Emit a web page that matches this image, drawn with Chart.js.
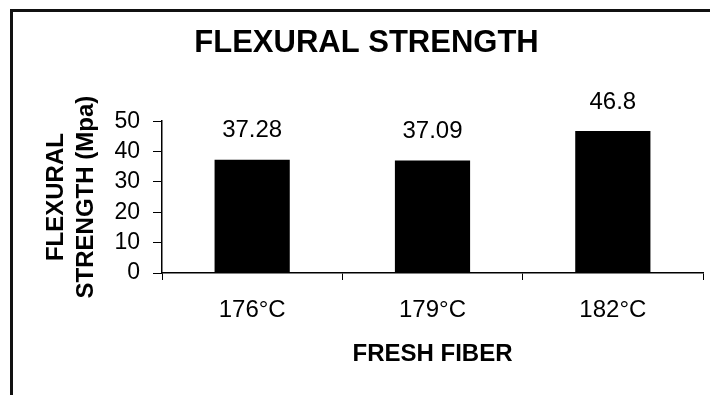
<!DOCTYPE html>
<html>
<head>
<meta charset="utf-8">
<script src="https://cdn.jsdelivr.net/npm/chart.js@4.4.1/dist/chart.umd.min.js"></script>
<style>
    body { margin: 0; background: #fff; overflow: hidden; }
    #frame {
        position: absolute; left: 10px; top: 9px;
        width: 720px; height: 400px;
        border-left: 3px solid #111; border-top: 3px solid #111;
    }
    #chart { position: absolute; left: 0; top: 0; }
</style>
</head>
<body>
<div id="frame"></div>
<canvas id="chart" width="710" height="395"></canvas>
<script>
// data
const categories = ['176°C', '179°C', '182°C'];
const strengthValues = [37.28, 37.09, 46.8];
const valueLabels = ['37.28', '37.09', '46.8'];
const yTicks = [0, 10, 20, 30, 40, 50];

const FONT = '"Liberation Sans", Arial, sans-serif';

// Value labels above each bar
const barLabels = {
    id: 'barLabels',
    afterDatasetsDraw(chart) {
        const ctx = chart.ctx;
        const meta = chart.getDatasetMeta(0);
        ctx.save();
        ctx.fillStyle = '#000';
        ctx.font = '24px ' + FONT;
        ctx.textAlign = 'center';
        ctx.textBaseline = 'middle';
        meta.data.forEach((bar, i) => {
            ctx.fillText(valueLabels[i], bar.x, bar.y - 29);
        });
        ctx.restore();
    }
};

new Chart(document.getElementById('chart'), {
    type: 'bar',
    data: {
        labels: categories,
        datasets: [{
            label: 'Flexural strength',
            data: strengthValues,
            backgroundColor: '#000',
            borderWidth: 0,
            barPercentage: 0.417,
            categoryPercentage: 1
        }]
    },
    options: {
        responsive: false,
        animation: false,
        layout: { padding: { left: 30, right: 7, top: 0, bottom: 0 } },
        plugins: {
            legend: { display: false },
            tooltip: { enabled: false },
            title: {
                display: true,
                text: 'FLEXURAL STRENGTH',
                color: '#000',
                font: { family: FONT, size: 31, weight: 'bold', lineHeight: 1.2 },
                padding: { top: 25, bottom: 59 }
            }
        },
        scales: {
            x: {
                afterFit: (scale) => { scale.height = 122; },
                grid: {
                    display: true,
                    drawOnChartArea: false,
                    drawTicks: true,
                    tickLength: 7,
                    color: '#000',
                    offset: true
                },
                border: { display: true, color: '#000', width: 1.5 },
                ticks: {
                    color: '#000',
                    padding: 16,
                    font: { family: FONT, size: 24 }
                },
                title: {
                    display: true,
                    text: 'FRESH FIBER',
                    color: '#000',
                    font: { family: FONT, size: 24, weight: 'bold', lineHeight: 1.2 },
                    padding: { top: 0, bottom: 26 }
                }
            },
            y: {
                min: yTicks[0],
                max: yTicks[yTicks.length - 1],
                afterFit: (scale) => { scale.width = 132; },
                afterBuildTicks: (scale) => {
                    scale.ticks = yTicks.map(v => ({ value: v }));
                },
                grid: {
                    display: true,
                    drawOnChartArea: false,
                    drawTicks: true,
                    tickLength: 9,
                    color: '#000'
                },
                border: { display: true, color: '#000', width: 1.5 },
                ticks: {
                    color: '#000',
                    padding: 13,
                    autoSkip: false,
                    font: { family: FONT, size: 23 }
                },
                title: {
                    display: true,
                    text: ['FLEXURAL', 'STRENGTH (Mpa)'],
                    color: '#000',
                    font: { family: FONT, size: 24, weight: 'bold', lineHeight: 1.25 },
                    padding: { top: 11, bottom: 0 }
                }
            }
        }
    },
    plugins: [barLabels]
});
</script>
</body>
</html>
